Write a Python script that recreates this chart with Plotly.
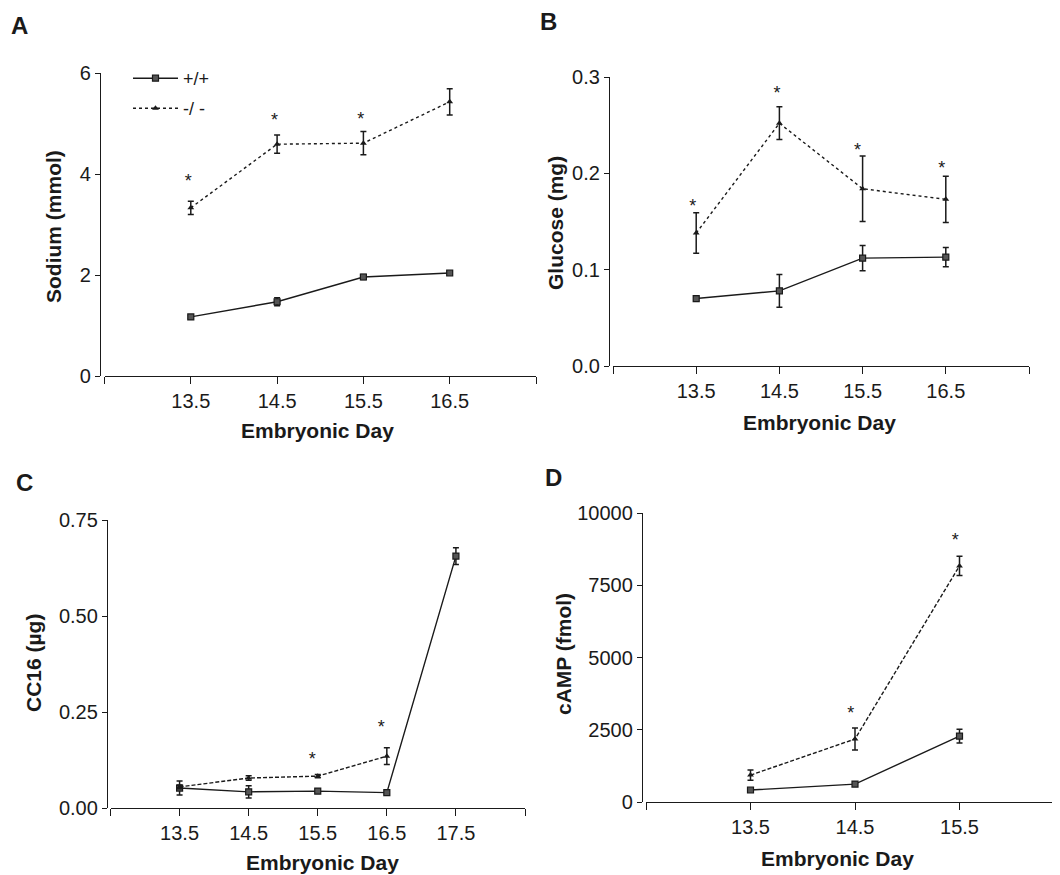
import plotly.graph_objects as go

# page geometry: the figure sits 8px from the page's top-left corner
PAGE_W, PAGE_H = 1060, 875
OFF = 8
W, H = PAGE_W - OFF, PAGE_H - OFF

# ---------------- data ----------------
days_ab = [13.5, 14.5, 15.5, 16.5]
sodium_wt = [1.17, 1.47, 1.96, 2.04]
sodium_wt_err = [0.03, 0.08, 0.05, 0.03]
sodium_ko = [3.33, 4.59, 4.61, 5.43]
sodium_ko_err = [0.13, 0.18, 0.23, 0.26]
sodium_star_x = [13.47, 14.47, 15.47, 16.4]
sodium_star_y = [3.84, 5.03, 5.05, 6.0]

glucose_wt = [0.070, 0.078, 0.112, 0.113]
glucose_wt_err = [0.002, 0.017, 0.013, 0.010]
glucose_ko = [0.138, 0.252, 0.184, 0.173]
glucose_ko_err = [0.021, 0.017, 0.034, 0.024]
glucose_star_x = [13.46, 14.47, 15.44, 16.45]
glucose_star_y = [0.165, 0.282, 0.223, 0.204]

days_c_wt = [13.5, 14.5, 15.5, 16.5, 17.5]
cc16_wt = [0.052, 0.042, 0.044, 0.040, 0.656]
cc16_wt_err = [0.018, 0.016, 0.005, 0.004, 0.022]
days_c_ko = [13.5, 14.5, 15.5, 16.5]
cc16_ko = [0.055, 0.078, 0.083, 0.135]
cc16_ko_err = [0.005, 0.006, 0.004, 0.022]
cc16_star_x = [15.42, 16.42]
cc16_star_y = [0.123, 0.206]

days_d = [13.5, 14.5, 15.5]
camp_wt = [415, 620, 2280]
camp_wt_err = [40, 60, 240]
camp_ko = [930, 2180, 8170]
camp_ko_err = [180, 380, 330]
camp_star_x = [14.46, 15.46]
camp_star_y = [3045, 9000]

legend_labels = ["+/+", "-/ -"]
x_title = "Embryonic Day"

# ---------------- helpers (page pixels -> paper fractions) ----------------
def fx(px):
    return min(max((px - OFF) / W, 0), 1)

def fy(py):
    return min(max(1 - (py - OFF) / H, 0), 1)

FONT = "Liberation Sans, Arial, sans-serif"
INK = "#1a1a1a"

fig = go.Figure()

def add_panel(n, xs_wt, wt, wt_err, xs_ko, ko, ko_err, sx, sy, dash, legend=False):
    xa = "x" if n == 1 else f"x{n}"
    ya = "y" if n == 1 else f"y{n}"
    fig.add_trace(go.Scatter(
        x=xs_wt, y=wt, xaxis=xa, yaxis=ya, mode="lines+markers",
        name=legend_labels[0], showlegend=legend, legend="legend",
        line=dict(color=INK, width=1.4),
        marker=dict(symbol="square", size=6, color="#555", line=dict(color=INK, width=1.2)),
        error_y=dict(type="data", array=wt_err, color=INK, thickness=1.5, width=3),
    ))
    fig.add_trace(go.Scatter(
        x=xs_ko, y=ko, xaxis=xa, yaxis=ya, mode="lines+markers",
        name=legend_labels[1], showlegend=legend, legend="legend2",
        line=dict(color=INK, width=1.4, dash=dash),
        marker=dict(symbol="triangle-up", size=6, color=INK),
        error_y=dict(type="data", array=ko_err, color=INK, thickness=1.5, width=3),
    ))
    fig.add_trace(go.Scatter(
        x=sx, y=sy, xaxis=xa, yaxis=ya, mode="text", text=["*"] * len(sx),
        textposition="middle center", showlegend=False,
        textfont=dict(family=FONT, size=18, color=INK),
    ))

add_panel(1, days_ab, sodium_wt, sodium_wt_err, days_ab, sodium_ko, sodium_ko_err,
          sodium_star_x, sodium_star_y, "dot", legend=True)
add_panel(2, days_ab, glucose_wt, glucose_wt_err, days_ab, glucose_ko, glucose_ko_err,
          glucose_star_x, glucose_star_y, "dot")
add_panel(3, days_c_wt, cc16_wt, cc16_wt_err, days_c_ko, cc16_ko, cc16_ko_err,
          cc16_star_x, cc16_star_y, "4px,2px")
add_panel(4, days_d, camp_wt, camp_wt_err, days_d, camp_ko, camp_ko_err,
          camp_star_x, camp_star_y, "4px,2px")

tick_font = dict(family=FONT, size=20, color=INK)

def xaxis(x0, x1, rng, tickvals, ticktext, yname):
    return dict(domain=[fx(x0), fx(x1)], range=rng, anchor=yname, automargin=False,
                tickvals=tickvals, ticktext=ticktext, ticks="outside", ticklen=7,
                tickwidth=1.3, tickcolor=INK, showline=True, linecolor=INK, linewidth=1.3,
                showgrid=False, zeroline=False, tickfont=tick_font)

def yaxis(y_top, y_bot, xpos, rng, tickvals, fmt):
    return dict(domain=[fy(y_bot), fy(y_top)], range=rng, anchor="free", position=fx(xpos),
                automargin=False,
                tickvals=tickvals, tickformat=fmt, ticks="outside", ticklen=5,
                tickwidth=1.3, tickcolor=INK, showline=True, linecolor=INK, linewidth=1.3,
                showgrid=False, zeroline=False, tickfont=tick_font)

lab4 = ["", "13.5", "14.5", "15.5", "16.5", ""]
d_right = PAGE_W
d_end = 12.5 + (d_right - 646) / 104.5
legend_style = dict(xanchor="left", yanchor="top", bgcolor="rgba(0,0,0,0)", itemwidth=45,
                    font=dict(family=FONT, size=18, color=INK))
fig.update_layout(
    width=W, height=H, margin=dict(l=0, r=0, t=0, b=0, pad=0, autoexpand=False),
    paper_bgcolor="white", plot_bgcolor="white",
    font=dict(family=FONT, color=INK),
    xaxis=xaxis(104.5, 536, [12.5, 17.5], [12.5, 13.5, 14.5, 15.5, 16.5, 17.5], lab4, "y"),
    yaxis=yaxis(73, 376, 100, [0, 6], [0, 2, 4, 6], "d"),
    xaxis2=xaxis(613, 1029, [12.5, 17.5], [12.5, 13.5, 14.5, 15.5, 16.5, 17.5], lab4, "y2"),
    yaxis2=yaxis(77, 366, 609, [0, 0.3], [0, 0.1, 0.2, 0.3], ".1f"),
    xaxis3=xaxis(110.5, 525, [12.5, 18.5], [12.5, 13.5, 14.5, 15.5, 16.5, 17.5, 18.5],
                 ["", "13.5", "14.5", "15.5", "16.5", "17.5", ""], "y3"),
    yaxis3=yaxis(520, 808, 107, [0, 0.75], [0, 0.25, 0.5, 0.75], ".2f"),
    xaxis4=xaxis(646, d_right, [12.5, d_end], [12.5, 13.5, 14.5, 15.5],
                 ["", "13.5", "14.5", "15.5"], "y4"),
    yaxis4=yaxis(513, 802, 642, [0, 10000], [0, 2500, 5000, 7500, 10000], "d"),
    legend=dict(x=fx(128), y=fy(60), **legend_style),
    legend2=dict(x=fx(128), y=fy(90), **legend_style),
)

annots = []
def label(text, x, y, size=24):
    annots.append(dict(text=f"<b>{text}</b>", x=fx(x), y=fy(y), xref="paper", yref="paper",
                       showarrow=False, font=dict(family=FONT, size=size, color=INK),
                       xanchor="center", yanchor="middle"))

def ytitle(text, x, y):
    annots.append(dict(text=f"<b>{text}</b>", x=fx(x), y=fy(y), xref="paper", yref="paper",
                       showarrow=False, textangle=-90,
                       font=dict(family=FONT, size=21, color=INK),
                       xanchor="center", yanchor="middle"))

for t, x, y in [("A", 19, 26), ("B", 548, 22), ("C", 24, 482), ("D", 553, 477)]:
    label(t, x, y)
for x, y in [(317, 430), (819, 422), (322, 862), (837, 858)]:
    label(x_title, x, y, size=21)
ytitle("Sodium (mmol)", 53, 227)
ytitle("Glucose (mg)", 555, 223)
ytitle("CC16 (µg)", 33, 663)
ytitle("cAMP (fmol)", 563, 654)

fig.update_layout(annotations=annots)
fig.write_html("out.html")
